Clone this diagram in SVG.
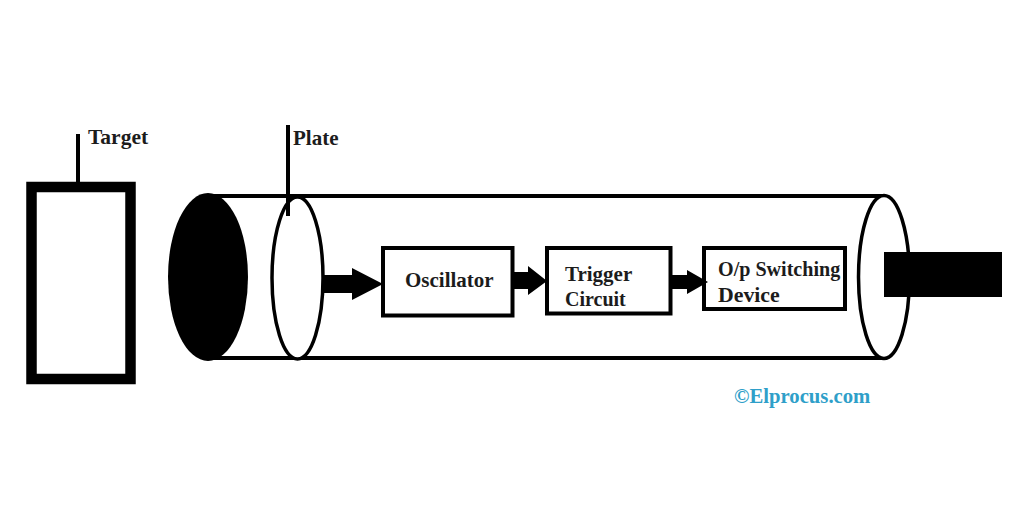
<svg xmlns="http://www.w3.org/2000/svg" width="1024" height="512" viewBox="0 0 1024 512">
<style>
.t{font-family:"Liberation Serif","Times New Roman",serif;font-weight:bold;font-size:21px;fill:#1c1c1c}
.b{fill:#fff;stroke:#000;stroke-width:4}
.l{stroke:#000;fill:none}
.a{fill:#000;stroke:none}
</style>
<rect width="1024" height="512" fill="#fff"/>
<g id="target">
<rect x="31.500" y="187" width="99" height="192" fill="#fff" stroke="#000" stroke-width="10.500"/>
<line class="l" x1="78" y1="134" x2="78" y2="183" stroke-width="4"/>
<text class="t" x="88" y="144" style="font-size:21.500px">Target</text>
</g>
<g id="tube">
<line class="l" x1="205" y1="196" x2="886" y2="196" stroke-width="4"/>
<line class="l" x1="208" y1="358" x2="886" y2="358" stroke-width="4"/>
<ellipse cx="208" cy="277" rx="40" ry="84" fill="#000"/>
</g>
<g id="plate">
<ellipse cx="297.500" cy="278" rx="25.500" ry="81" fill="#fff" stroke="#000" stroke-width="3.500"/>
<line class="l" x1="288" y1="125" x2="288" y2="216" stroke-width="4"/>
<text class="t" x="293" y="145">Plate</text>
</g>
<g id="end-cap">
<ellipse cx="884" cy="277" rx="25.500" ry="81.500" fill="#fff" stroke="#000" stroke-width="3.500"/>
<rect x="884" y="252" width="118" height="45" fill="#000"/>
</g>
<g id="oscillator">
<rect class="b" x="383" y="248" width="129.500" height="67.500"/>
<text class="t" x="405" y="287">Oscillator</text>
</g>
<g id="trigger">
<rect class="b" x="547" y="248" width="123.500" height="65.500"/>
<text class="t" x="565" y="281">Trigger</text>
<text class="t" x="565" y="306" style="font-size:20px">Circuit</text>
</g>
<g id="switching">
<rect class="b" x="704" y="248" width="141" height="61"/>
<text class="t" x="718" y="276" style="font-size:20.100px">O/p Switching</text>
<text class="t" x="718" y="302" style="font-size:21.800px">Device</text>
</g>
<g id="connectors">
<polygon class="a" points="323,275 352,275 352,268 383,284 352,300 352,293 323,293"/>
<polygon class="a" points="513,272 528,272 528,266 547,281 528,295 528,289 513,289"/>
<polygon class="a" points="671,275 687,275 687,270 708,282 687,294 687,289 671,289"/>
</g>
<text id="credit" x="734" y="403" style="font-family:'Liberation Serif',serif;font-weight:bold;font-size:20.700px;fill:#2f9fc9">©Elprocus.com</text>
</svg>
